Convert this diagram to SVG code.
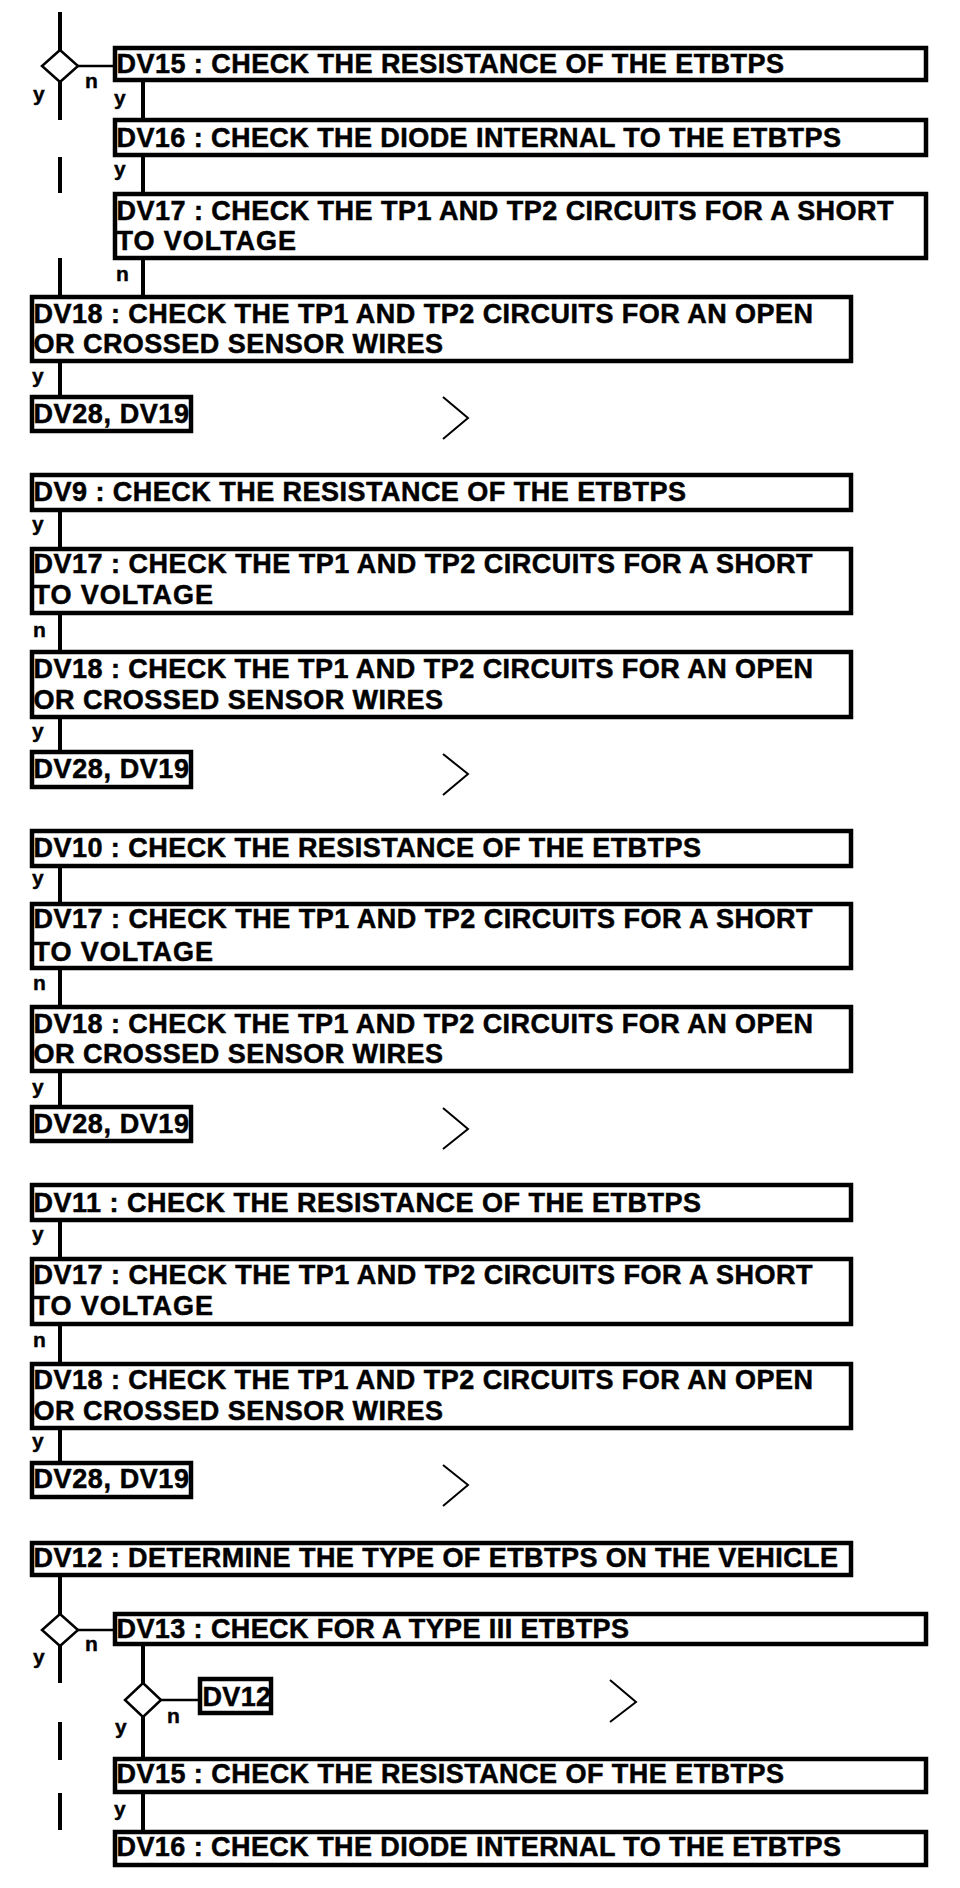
<svg xmlns="http://www.w3.org/2000/svg" width="960" height="1888" viewBox="0 0 960 1888">
<style>
.box{fill:#fff;stroke:#000;stroke-width:4.5}
.t{font-family:"Liberation Sans",Arial,sans-serif;font-weight:bold;font-size:27px;fill:#000;stroke:#000;stroke-width:0.5}
.lb{font-family:"Liberation Sans",Arial,sans-serif;font-weight:bold;font-size:21px;fill:#000;stroke:#000;stroke-width:0.4}
.v{stroke:#000;stroke-width:4;fill:none}
.h{stroke:#000;stroke-width:2.5;fill:none}
.dia{fill:#fff;stroke:#000;stroke-width:2.5}
.chev{fill:none;stroke:#000;stroke-width:2}
</style>
<rect width="960" height="1888" fill="#fff"/>
<g id="connectors">
<path class="v" d="M60 12V50M60 82V120M60 157V193M60 258V295M143 82V118M143 157V192M143 260V295M60 363V395"/>
<path class="v" d="M60 512V547M60 615V650M60 719V750"/>
<path class="v" d="M60 868V902M60 970V1005M60 1073V1105"/>
<path class="v" d="M60 1222V1257M60 1326V1362M60 1430V1461"/>
<path class="v" d="M60 1577V1614M60 1646V1683M60 1722V1760M60 1793V1830M143 1646V1683M143 1717V1757M143 1794V1830"/>
<path class="h" d="M78 66H113M78 1630H113M161 1700H198"/>
<text class="lb" x="33" y="101">y</text>
<text class="lb" x="85" y="88">n</text>
<text class="lb" x="114" y="105">y</text>
<text class="lb" x="114" y="176">y</text>
<text class="lb" x="116" y="281">n</text>
<text class="lb" x="32" y="383">y</text>
<text class="lb" x="32" y="531">y</text>
<text class="lb" x="33" y="637">n</text>
<text class="lb" x="32" y="738">y</text>
<text class="lb" x="32" y="885">y</text>
<text class="lb" x="33" y="990">n</text>
<text class="lb" x="32" y="1094">y</text>
<text class="lb" x="32" y="1241">y</text>
<text class="lb" x="33" y="1347">n</text>
<text class="lb" x="32" y="1448">y</text>
<text class="lb" x="85" y="1651">n</text>
<text class="lb" x="33" y="1664">y</text>
<text class="lb" x="167" y="1723">n</text>
<text class="lb" x="115" y="1734">y</text>
<text class="lb" x="114" y="1816">y</text>
<polyline class="chev" points="443,397 468,418 443,439"/>
<polyline class="chev" points="443,754 468,774 443,795"/>
<polyline class="chev" points="443,1108 468,1129 443,1149"/>
<polyline class="chev" points="443,1465 468,1485 443,1506"/>
<polyline class="chev" points="610,1680 636,1702 610,1722"/>
</g>
<g id="d1"><polygon class="dia" points="60,50 78,66 60,82 42,66"/></g>
<g id="n1"><rect class="box" x="115" y="48" width="811" height="32"/><text class="t" x="116.5" y="73" textLength="667.5">DV15 : CHECK THE RESISTANCE OF THE ETBTPS</text></g>
<g id="n2"><rect class="box" x="115" y="120" width="811" height="35"/><text class="t" x="116.5" y="147" textLength="724.5">DV16 : CHECK THE DIODE INTERNAL TO THE ETBTPS</text></g>
<g id="n3"><rect class="box" x="115" y="194" width="811" height="64"/><text class="t" x="116.5" y="220" textLength="777">DV17 : CHECK THE TP1 AND TP2 CIRCUITS FOR A SHORT</text><text class="t" x="116.5" y="250" textLength="179.5">TO VOLTAGE</text></g>
<g id="n4"><rect class="box" x="32" y="297" width="819" height="64"/><text class="t" x="33.5" y="323" textLength="779.5">DV18 : CHECK THE TP1 AND TP2 CIRCUITS FOR AN OPEN</text><text class="t" x="33.5" y="353" textLength="409.5">OR CROSSED SENSOR WIRES</text></g>
<g id="n5"><rect class="box" x="32" y="397" width="159" height="34"/><text class="t" x="33.5" y="422.5" textLength="155.5">DV28, DV19</text></g>
<g id="n6"><rect class="box" x="32" y="475" width="819" height="35"/><text class="t" x="33.5" y="501" textLength="652.5">DV9 : CHECK THE RESISTANCE OF THE ETBTPS</text></g>
<g id="n7"><rect class="box" x="32" y="549" width="819" height="64"/><text class="t" x="33.5" y="573" textLength="779">DV17 : CHECK THE TP1 AND TP2 CIRCUITS FOR A SHORT</text><text class="t" x="33.5" y="604" textLength="179.5">TO VOLTAGE</text></g>
<g id="n8"><rect class="box" x="32" y="652" width="819" height="65"/><text class="t" x="33.5" y="678" textLength="779.5">DV18 : CHECK THE TP1 AND TP2 CIRCUITS FOR AN OPEN</text><text class="t" x="33.5" y="709" textLength="409.5">OR CROSSED SENSOR WIRES</text></g>
<g id="n9"><rect class="box" x="32" y="752" width="159" height="35"/><text class="t" x="33.5" y="777.5" textLength="155.5">DV28, DV19</text></g>
<g id="n10"><rect class="box" x="32" y="831" width="819" height="35"/><text class="t" x="33.5" y="857" textLength="667.5">DV10 : CHECK THE RESISTANCE OF THE ETBTPS</text></g>
<g id="n11"><rect class="box" x="32" y="904" width="819" height="64"/><text class="t" x="33.5" y="928" textLength="779">DV17 : CHECK THE TP1 AND TP2 CIRCUITS FOR A SHORT</text><text class="t" x="33.5" y="961" textLength="179.5">TO VOLTAGE</text></g>
<g id="n12"><rect class="box" x="32" y="1007" width="819" height="64"/><text class="t" x="33.5" y="1033" textLength="779.5">DV18 : CHECK THE TP1 AND TP2 CIRCUITS FOR AN OPEN</text><text class="t" x="33.5" y="1063" textLength="409.5">OR CROSSED SENSOR WIRES</text></g>
<g id="n13"><rect class="box" x="32" y="1107" width="159" height="34"/><text class="t" x="33.5" y="1133" textLength="155.5">DV28, DV19</text></g>
<g id="n14"><rect class="box" x="32" y="1185" width="819" height="35"/><text class="t" x="33.5" y="1212" textLength="667.5">DV11 : CHECK THE RESISTANCE OF THE ETBTPS</text></g>
<g id="n15"><rect class="box" x="32" y="1259" width="819" height="65"/><text class="t" x="33.5" y="1283.5" textLength="779">DV17 : CHECK THE TP1 AND TP2 CIRCUITS FOR A SHORT</text><text class="t" x="33.5" y="1315" textLength="179.5">TO VOLTAGE</text></g>
<g id="n16"><rect class="box" x="32" y="1364" width="819" height="64"/><text class="t" x="33.5" y="1388.5" textLength="779.5">DV18 : CHECK THE TP1 AND TP2 CIRCUITS FOR AN OPEN</text><text class="t" x="33.5" y="1420" textLength="409.5">OR CROSSED SENSOR WIRES</text></g>
<g id="n17"><rect class="box" x="32" y="1463" width="159" height="34"/><text class="t" x="33.5" y="1488" textLength="155.5">DV28, DV19</text></g>
<g id="n18"><rect class="box" x="32" y="1543" width="819" height="32"/><text class="t" x="33.5" y="1567" textLength="804.5">DV12 : DETERMINE THE TYPE OF ETBTPS ON THE VEHICLE</text></g>
<g id="d2"><polygon class="dia" points="60,1614 78,1630 60,1646 42,1630"/></g>
<g id="n19"><rect class="box" x="115" y="1614" width="811" height="30"/><text class="t" x="116.5" y="1638" textLength="512.5">DV13 : CHECK FOR A TYPE III ETBTPS</text></g>
<g id="d3"><polygon class="dia" points="143,1683 161,1700 143,1717 125,1700"/></g>
<g id="n20"><rect class="box" x="200" y="1679" width="71" height="34"/><text class="t" x="202.5" y="1706" textLength="68.5">DV12</text></g>
<g id="n21"><rect class="box" x="115" y="1759" width="811" height="33"/><text class="t" x="116.5" y="1783" textLength="667.5">DV15 : CHECK THE RESISTANCE OF THE ETBTPS</text></g>
<g id="n22"><rect class="box" x="115" y="1832" width="811" height="33"/><text class="t" x="116.5" y="1855.5" textLength="724.5">DV16 : CHECK THE DIODE INTERNAL TO THE ETBTPS</text></g>
</svg>
